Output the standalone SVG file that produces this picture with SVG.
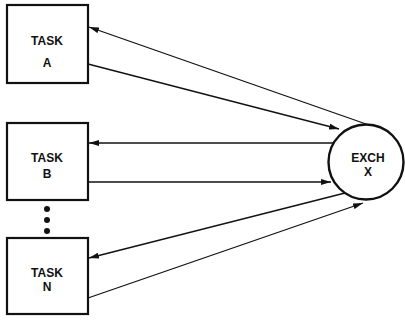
<svg xmlns="http://www.w3.org/2000/svg" width="405" height="320" viewBox="0 0 405 320">
<style>
.box{fill:#fff;stroke:#111;stroke-width:2.2}
.lbl{font-family:"Liberation Sans",Arial,sans-serif;font-weight:bold;font-size:12px;fill:#111;text-anchor:middle}
.conn{stroke:#111;stroke-width:1.3;fill:none;marker-end:url(#ah)}
</style>
<defs>
<marker id="ah" viewBox="0 0 10 6" refX="10" refY="3" markerWidth="10" markerHeight="6" markerUnits="userSpaceOnUse" orient="auto">
<path d="M0,0 L10,3 L0,6 Z" fill="#111"/>
</marker>
</defs>
<rect width="405" height="320" fill="#fff"/>
<g id="connectors">
<line class="conn" x1="366" y1="124" x2="89" y2="27"/>
<line class="conn" x1="88" y1="64" x2="339" y2="129"/>
<line class="conn" x1="333" y1="143" x2="89" y2="143"/>
<line class="conn" x1="88" y1="182" x2="331" y2="182"/>
<line class="conn" x1="345" y1="193" x2="89" y2="258"/>
<line class="conn" x1="88" y1="298" x2="363" y2="203"/>
</g>
<g id="taskA">
<rect class="box" x="7" y="5" width="81" height="78"/>
<text class="lbl" x="47" y="45">TASK</text>
<text class="lbl" x="47" y="67">A</text>
</g>
<g id="taskB">
<rect class="box" x="7" y="123" width="81" height="77"/>
<text class="lbl" x="47" y="162">TASK</text>
<text class="lbl" x="47" y="178">B</text>
</g>
<g id="dots">
<circle cx="47" cy="209" r="3" fill="#111"/>
<circle cx="47" cy="220" r="3" fill="#111"/>
<circle cx="47" cy="231" r="3" fill="#111"/>
</g>
<g id="taskN">
<rect class="box" x="7" y="238" width="81" height="76"/>
<text class="lbl" x="47" y="277">TASK</text>
<text class="lbl" x="47" y="291">N</text>
</g>
<g id="exch">
<circle cx="366" cy="162" r="37.5" fill="#fff" stroke="#111" stroke-width="2.4"/>
<text class="lbl" x="368" y="162">EXCH</text>
<text class="lbl" x="368" y="176">X</text>
</g>
</svg>
